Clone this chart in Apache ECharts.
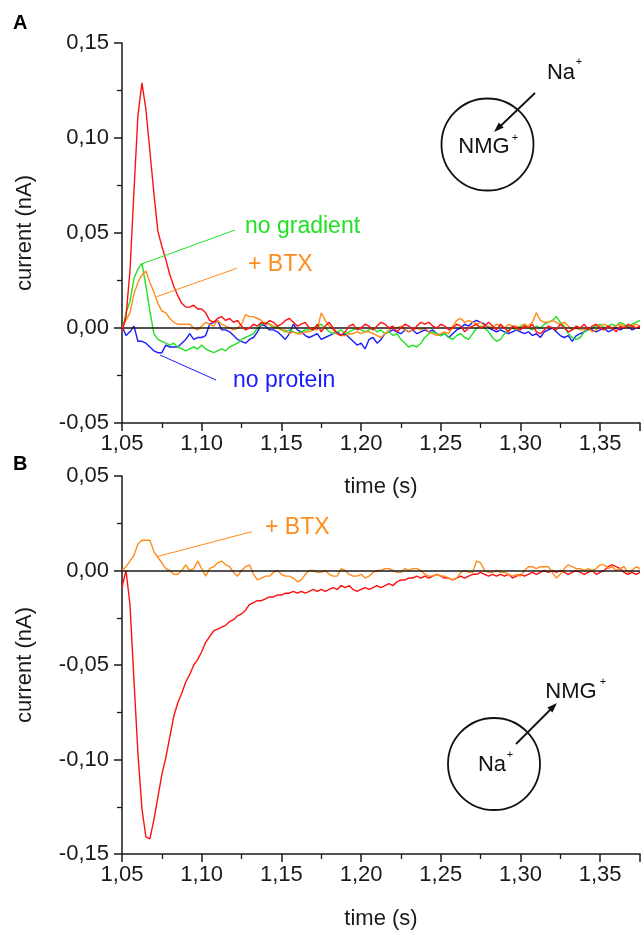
<!DOCTYPE html>
<html><head><meta charset="utf-8">
<script src="https://cdn.jsdelivr.net/npm/echarts@6/dist/echarts.min.js"></script>
<style>html,body{margin:0;padding:0;background:#fff}#c{width:643px;height:931px}</style>
</head><body><div id="c"></div>
<script>
// time axis (s)
const time = [
1.0500,1.0525,1.0550,1.0575,1.0600,1.0625,1.0650,1.0675,1.0700,1.0725,1.0750,1.0775,
1.0800,1.0825,1.0850,1.0875,1.0900,1.0925,1.0950,1.0975,1.1000,1.1025,1.1050,1.1075,
1.1100,1.1125,1.1150,1.1175,1.1200,1.1225,1.1250,1.1275,1.1300,1.1325,1.1350,1.1375,
1.1400,1.1425,1.1450,1.1475,1.1500,1.1525,1.1550,1.1575,1.1600,1.1625,1.1650,1.1675,
1.1700,1.1725,1.1750,1.1775,1.1800,1.1825,1.1850,1.1875,1.1900,1.1925,1.1950,1.1975,
1.2000,1.2025,1.2050,1.2075,1.2100,1.2125,1.2150,1.2175,1.2200,1.2225,1.2250,1.2275,
1.2300,1.2325,1.2350,1.2375,1.2400,1.2425,1.2450,1.2475,1.2500,1.2525,1.2550,1.2575,
1.2600,1.2625,1.2650,1.2675,1.2700,1.2725,1.2750,1.2775,1.2800,1.2825,1.2850,1.2875,
1.2900,1.2925,1.2950,1.2975,1.3000,1.3025,1.3050,1.3075,1.3100,1.3125,1.3150,1.3175,
1.3200,1.3225,1.3250,1.3275,1.3300,1.3325,1.3350,1.3375,1.3400,1.3425,1.3450,1.3475,
1.3500,1.3525,1.3550,1.3575,1.3600,1.3625,1.3650,1.3675,1.3700,1.3725,1.3750];

// Panel A (nA)
const redA = [
-0.002,0.006,0.030,0.072,0.112,0.129,0.115,0.093,0.071,0.051,0.043,0.036,
0.028,0.022,0.017,0.013,0.011,0.011,0.012,0.010,0.010,0.008,0.004,0.003,
0.005,0.006,0.004,0.005,0.003,0.004,0.001,-0.001,0.000,0.002,0.001,0.003,
0.002,0.004,0.003,0.001,0.002,0.004,0.005,0.003,0.001,0.002,0.003,0.000,
-0.001,0.002,-0.002,0.001,0.003,0.000,-0.003,-0.004,-0.002,0.001,0.002,-0.001,
0.000,0.002,0.001,-0.001,0.001,0.003,0.002,0.000,0.001,-0.002,0.000,0.002,
0.001,-0.001,0.001,0.003,0.002,0.003,0.001,0.000,0.002,0.001,-0.001,0.000,
0.002,0.001,-0.002,0.000,0.001,0.002,0.000,0.001,0.003,0.001,-0.001,0.002,
0.000,-0.002,0.001,0.000,-0.001,0.001,0.000,0.002,-0.002,-0.003,-0.001,0.001,
0.000,-0.001,0.002,0.000,-0.002,-0.001,0.001,0.000,0.002,-0.001,0.001,0.002,
0.000,-0.001,0.001,0.000,-0.002,0.001,0.000,0.002,0.001,0.000,0.001];
const greenA = [
-0.002,0.008,0.014,0.026,0.031,0.034,0.022,0.009,-0.003,-0.006,-0.007,-0.008,
-0.009,-0.008,-0.010,-0.011,-0.012,-0.011,-0.010,-0.011,-0.009,-0.011,-0.012,-0.013,
-0.012,-0.011,-0.012,-0.010,-0.009,-0.008,-0.006,-0.005,-0.004,-0.003,0.000,0.002,
0.003,0.002,0.000,0.001,-0.001,-0.002,-0.001,-0.002,-0.003,-0.002,-0.001,-0.001,
0.000,0.001,0.002,0.000,-0.002,-0.003,-0.002,-0.001,-0.003,-0.002,-0.001,0.000,
-0.001,-0.002,-0.001,0.000,-0.002,-0.001,-0.003,-0.002,-0.004,-0.003,-0.006,-0.008,
-0.010,-0.009,-0.010,-0.008,-0.005,-0.003,-0.002,-0.003,-0.004,-0.003,-0.005,-0.006,
-0.004,-0.003,-0.005,-0.006,-0.003,0.000,0.001,0.000,-0.002,-0.005,-0.007,-0.006,
-0.003,-0.001,0.000,-0.001,0.001,0.002,0.000,-0.001,0.001,0.000,0.002,0.003,
0.004,0.006,0.003,0.001,-0.003,-0.005,-0.006,-0.005,-0.002,-0.001,0.000,0.001,
0.002,0.000,0.001,0.002,0.001,0.003,0.002,0.000,0.002,0.003,0.004];
const orangeA = [
0.000,0.004,0.008,0.018,0.024,0.028,0.030,0.024,0.019,0.013,0.009,0.008,
0.005,0.003,0.002,0.002,0.002,0.002,0.000,-0.001,0.001,0.003,0.002,0.001,
0.004,0.002,0.001,0.000,-0.001,0.000,0.002,0.007,0.006,0.006,0.005,0.004,
0.002,0.002,0.001,0.000,-0.001,-0.001,-0.003,-0.002,-0.003,-0.003,-0.002,-0.002,
-0.001,-0.001,0.008,0.004,0.001,-0.001,-0.003,-0.004,-0.004,-0.003,-0.003,-0.002,
-0.003,-0.002,-0.002,-0.003,-0.004,-0.005,-0.003,-0.001,0.000,0.000,0.001,-0.001,
-0.002,-0.001,0.000,-0.001,0.000,-0.002,-0.003,-0.004,-0.003,-0.002,-0.003,0.001,
0.004,0.005,0.003,0.004,0.003,0.002,0.003,0.001,0.001,0.000,0.002,0.001,
0.000,0.002,0.001,0.001,0.000,0.002,0.001,0.003,0.008,0.004,0.003,0.003,
0.004,0.003,0.002,0.003,0.001,-0.001,0.000,-0.001,-0.001,0.000,-0.002,-0.001,
0.001,0.002,0.001,0.000,0.001,0.002,0.001,0.000,0.001,0.002,0.001];
const blueA = [
0.001,-0.004,-0.002,0.001,-0.007,-0.007,-0.008,-0.010,-0.012,-0.013,-0.013,-0.009,
-0.010,-0.010,-0.010,-0.008,-0.006,-0.003,-0.006,-0.005,-0.005,-0.004,0.002,0.003,
0.004,-0.001,-0.001,-0.002,-0.004,-0.006,-0.007,-0.008,-0.006,-0.005,-0.002,0.002,
0.001,-0.001,-0.001,-0.002,-0.004,-0.006,-0.003,0.002,-0.001,-0.002,-0.004,-0.005,
-0.004,-0.003,-0.006,-0.005,-0.004,-0.003,-0.002,-0.004,-0.003,-0.005,-0.007,-0.009,
-0.008,-0.011,-0.006,-0.005,-0.008,-0.006,-0.003,-0.002,-0.001,-0.002,-0.003,-0.001,
-0.002,-0.001,-0.003,-0.002,-0.001,-0.002,-0.001,-0.003,-0.004,-0.003,-0.005,-0.003,
-0.001,0.000,0.002,0.001,0.003,0.004,0.003,0.002,0.000,-0.001,-0.002,-0.001,
-0.002,-0.003,-0.002,-0.001,-0.002,-0.003,-0.002,-0.004,-0.003,-0.005,-0.002,-0.001,
0.000,-0.002,-0.004,-0.005,-0.004,-0.007,-0.004,-0.003,-0.002,0.000,-0.001,-0.002,
-0.001,0.000,-0.002,-0.001,0.000,-0.001,0.000,0.001,-0.001,0.000,0.000];

// Panel B (nA)
const redB = [
-0.009,0.000,-0.018,-0.058,-0.097,-0.126,-0.141,-0.142,-0.132,-0.120,-0.108,-0.099,
-0.088,-0.077,-0.070,-0.065,-0.059,-0.055,-0.050,-0.047,-0.043,-0.038,-0.035,-0.032,
-0.031,-0.030,-0.029,-0.027,-0.026,-0.024,-0.023,-0.021,-0.018,-0.017,-0.016,-0.016,
-0.015,-0.014,-0.014,-0.013,-0.013,-0.012,-0.012,-0.011,-0.012,-0.011,-0.012,-0.011,
-0.010,-0.011,-0.010,-0.011,-0.010,-0.009,-0.010,-0.008,-0.009,-0.008,-0.010,-0.011,
-0.010,-0.009,-0.010,-0.009,-0.008,-0.009,-0.008,-0.007,-0.008,-0.006,-0.005,-0.005,
-0.004,-0.004,-0.003,-0.004,-0.003,-0.004,-0.003,-0.002,-0.003,-0.004,-0.004,-0.005,
-0.004,-0.003,-0.004,-0.003,-0.002,-0.002,-0.001,-0.002,-0.003,-0.002,-0.003,-0.002,
-0.003,-0.002,-0.004,-0.003,-0.002,-0.003,-0.002,-0.001,-0.002,-0.001,0.000,-0.001,
0.000,-0.001,0.000,-0.001,-0.002,-0.001,0.000,-0.001,-0.002,-0.001,0.000,-0.002,
-0.001,0.000,0.002,0.003,0.002,0.001,-0.001,-0.002,-0.001,-0.002,-0.001];
const orangeB = [
0.000,0.002,0.005,0.008,0.014,0.016,0.016,0.016,0.010,0.007,0.004,0.001,
0.000,-0.002,-0.002,0.000,0.003,0.000,0.001,0.005,0.001,-0.003,0.001,0.002,
0.004,0.005,0.003,0.002,-0.001,-0.003,0.000,0.002,0.003,-0.002,-0.005,-0.004,
-0.003,-0.003,-0.001,0.000,-0.002,-0.003,-0.003,-0.004,-0.006,-0.005,-0.002,0.000,
0.000,-0.001,-0.001,0.000,-0.002,-0.003,-0.003,0.001,0.000,-0.002,-0.003,-0.003,
-0.002,-0.004,-0.003,-0.001,0.000,0.000,0.001,0.001,0.000,-0.001,-0.001,0.001,
0.000,0.001,0.001,0.000,-0.002,-0.003,-0.003,-0.002,-0.003,-0.003,-0.004,-0.005,
-0.004,-0.001,0.000,-0.001,-0.001,0.005,0.004,0.000,-0.001,-0.001,0.000,-0.001,
-0.001,-0.002,-0.003,-0.002,-0.003,0.000,0.002,0.002,0.001,0.002,0.002,0.002,
-0.001,-0.004,-0.002,0.001,0.003,0.002,0.001,0.001,0.000,0.001,0.000,0.001,
0.003,0.003,0.001,0.002,0.000,0.001,0.002,-0.001,0.000,0.002,0.001];

const FONT = '"Liberation Sans", Arial, Helvetica, sans-serif';
const INK = '#1a1a1a';
const C = { red:'#ff1010', green:'#22e022', orange:'#ff8c1a', blue:'#1a1aff' };

const fmt = v => {
  if (Math.abs(v * 20 - Math.round(v * 20)) > 1e-6) return '';
  return (Math.round(v * 100) / 100).toFixed(2).replace('.', ',');
};

function xAxis(gi, gap) {
  return {
    type: 'value', gridIndex: gi, min: 1.05, max: 1.375, interval: 0.05,
    name: 'time (s)', nameLocation: 'middle', nameGap: gap,
    nameTextStyle: { fontFamily: FONT, fontSize: 22, color: INK },
    axisLine: { onZero: false, lineStyle: { color: INK, width: 1.5 } },
    axisTick: { length: 8, lineStyle: { color: INK, width: 1.5 } },
    minorTick: { show: true, splitNumber: 2, length: 5, lineStyle: { color: INK, width: 1.3 } },
    axisLabel: { formatter: fmt, margin: 10, fontFamily: FONT, fontSize: 22, color: INK },
    splitLine: { show: false }
  };
}
function yAxis(gi, min, max) {
  return {
    type: 'value', gridIndex: gi, min: min, max: max, interval: 0.05,
    name: 'current (nA)', nameLocation: 'middle', nameGap: 86,
    nameTextStyle: { fontFamily: FONT, fontSize: 22, color: INK },
    axisLine: { onZero: false, lineStyle: { color: INK, width: 1.5 } },
    axisTick: { length: 8, lineStyle: { color: INK, width: 1.5 } },
    minorTick: { show: true, splitNumber: 2, length: 5, lineStyle: { color: INK, width: 1.3 } },
    axisLabel: { formatter: fmt, margin: 13, fontFamily: FONT, fontSize: 22, color: INK },
    splitLine: { show: false }
  };
}
function ser(name, gi, vals, color, z) {
  return {
    type: 'line', name: name, xAxisIndex: gi, yAxisIndex: gi,
    data: time.map((t, i) => [t, vals[i]]),
    showSymbol: false, symbol: 'none', silent: true, z: z,
    lineStyle: { color: color, width: 1.4 }, itemStyle: { color: color }
  };
}
function zero(gi) {
  return {
    type: 'line', xAxisIndex: gi, yAxisIndex: gi, data: [], z: 1, silent: true,
    markLine: { silent: true, symbol: 'none', label: { show: false },
      lineStyle: { color: INK, width: 1.5, type: 'solid' }, data: [{ yAxis: 0 }] }
  };
}
function txt(x, y, s, size, color, align, weight) {
  return { type: 'text', x: x, y: y, z: 100, style: { text: s, fontFamily: FONT, fontSize: size,
    fill: color, align: align || 'left', verticalAlign: 'middle', fontWeight: weight || 'normal' } };
}
function seg(x1, y1, x2, y2, color, w) {
  return { type: 'line', z: 100, shape: { x1: x1, y1: y1, x2: x2, y2: y2 }, style: { stroke: color, lineWidth: w || 1 } };
}

const chart = echarts.init(document.getElementById('c'), null, { renderer: 'canvas' });
chart.setOption({
  animation: false,
  backgroundColor: '#fff',
  grid: [
    { left: 122, top: 43, width: 520, height: 380 },
    { left: 122, top: 476, width: 520, height: 379 }
  ],
  xAxis: [xAxis(0, 53), xAxis(1, 54)],
  yAxis: [yAxis(0, -0.05, 0.15), yAxis(1, -0.15, 0.05)],
  series: [
    zero(0), zero(1),
    ser('no protein', 0, blueA, C.blue, 2),
    ser('no gradient', 0, greenA, C.green, 3),
    ser('+ BTX', 0, orangeA, C.orange, 4),
    ser('control', 0, redA, C.red, 5),
    ser('control', 1, redB, C.red, 2),
    ser('+ BTX', 1, orangeB, C.orange, 3)
  ],
  graphic: [
    txt(13, 23, 'A', 20, '#000', 'left', 'bold'),
    txt(13, 464, 'B', 20, '#000', 'left', 'bold'),
    // panel A annotations
    seg(141.7, 264, 235, 230, C.green),
    txt(245, 227, 'no gradient', 23, C.green),
    seg(156.7, 296.7, 236.7, 268.3, C.orange),
    txt(248, 265, '+ BTX', 23, C.orange),
    seg(160, 355, 216, 380, C.blue),
    txt(233, 381, 'no protein', 23, C.blue),
    // panel A cell
    { type: 'circle', z: 100, shape: { cx: 487.5, cy: 144.5, r: 46 }, style: { fill: 'none', stroke: '#111', lineWidth: 1.8 } },
    txt(484, 147, 'NMG', 22, '#111', 'center'),
    txt(515, 138, '+', 11, '#111', 'center'),
    txt(561, 73, 'Na', 22, '#111', 'center'),
    txt(579, 62, '+', 11, '#111', 'center'),
    seg(535, 93, 500, 126.5, '#111', 1.8),
    { type: 'polygon', z: 100, shape: { points: [[494, 132], [503.7, 127.6], [498.8, 122.6]] }, style: { fill: '#111' } },
    // panel B annotations
    seg(156.7, 556.7, 251.7, 531.7, C.orange),
    txt(265, 528, '+ BTX', 23, C.orange),
    { type: 'circle', z: 100, shape: { cx: 494, cy: 764, r: 46 }, style: { fill: 'none', stroke: '#111', lineWidth: 1.8 } },
    txt(492, 765, 'Na', 22, '#111', 'center'),
    txt(510, 755, '+', 11, '#111', 'center'),
    txt(571, 692, 'NMG', 22, '#111', 'center'),
    txt(603, 682, '+', 11, '#111', 'center'),
    seg(516, 744, 551, 709, '#111', 1.8),
    { type: 'polygon', z: 100, shape: { points: [[557, 703], [552.4, 712.6], [547.4, 707.6]] }, style: { fill: '#111' } }
  ]
});
</script></body></html>
